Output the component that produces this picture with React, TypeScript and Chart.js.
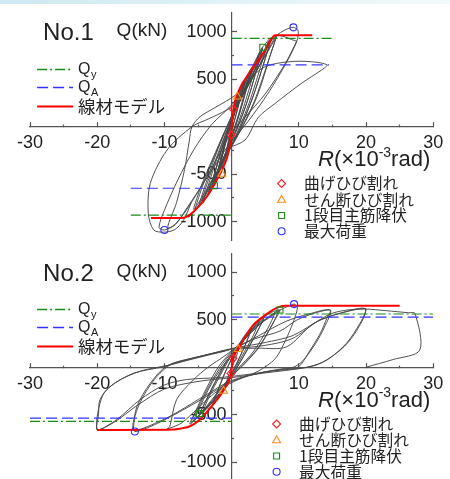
import React, { useEffect, useRef } from "react";
import { Chart, registerables } from "chart.js";

Chart.register(...registerables);

type Pt = [number, number];

// ---------- axes ----------
const xTickLabels = [-30, -20, -10, 10, 20, 30];
const yTickLabels = [-1000, -500, 500, 1000];
const panelTitles = ["No.1", "No.2"];
const yAxisTitle = "Q(kN)";
const lineLegendMain = ["Q", "Q", "線材モデル"];
const lineLegendSub = ["y", "A", ""];
const markerLegendLabels = ["曲げひび割れ", "せん断ひび割れ", "1段目主筋降伏", "最大荷重"];

// ---------- No.1 ----------
const no1Skeleton: Pt[] = [[-12, -962], [-7.6, -962], [-6.7, -950], [-5.4, -877], [-3.7, -737], [-2.2, -560], [-1.2, -420], [-0.5, -280], [-0.07, -88], [0, 0], [0.27, 183], [1.0, 370], [3.0, 600], [5.0, 805], [6.5, 962], [12, 962]];
const no1QyPos: Pt[] = [[0, 930], [15, 930]];
const no1QyNeg: Pt[] = [[-15, -930], [0, -930]];
const no1QaPos: Pt[] = [[0, 650], [14.5, 650]];
const no1QaNeg: Pt[] = [[-15, -648], [0, -648]];
const no1Flexural: Pt[] = [[0.27, 183], [-0.07, -88]];
const no1Shear: Pt[] = [[0.87, 316], [-1.46, -498]];
const no1Yield: Pt[] = [[4.64, 836], [-2.56, -621]];
const no1Max: Pt[] = [[9.2, 1046], [-10.0, -1087]];
const no1Loop1: Pt[] = [[0, 0], [0.27, 183], [0.9, 330], [0.6, 210], [0.05, 20], [-0.07, -88], [-0.5, -280], [-1.2, -420], [-0.9, -300], [-0.3, -80], [0.3, 140], [0.9, 330]];
const no1Loop2: Pt[] = [[0.9, 330], [2.0, 500], [1.5, 360], [0.5, 90], [-0.3, -120], [-1.0, -330], [-2.2, -560], [-1.8, -440], [-1.0, -200], [0, 60], [1.0, 320], [2.0, 500]];
const no1Loop2b: Pt[] = [[2.0, 500], [1.6, 380], [0.7, 130], [-0.2, -100], [-1.1, -340], [-2.2, -540], [-1.7, -400], [-0.8, -150], [0.2, 100], [1.2, 340], [2.0, 500]];
const no1Loop3: Pt[] = [[2.0, 500], [3.0, 620], [2.6, 500], [1.4, 190], [0.3, -60], [-1.0, -300], [-2.6, -620], [-2.1, -480], [-1.2, -230], [0.1, 90], [1.6, 400], [3.0, 620]];
const no1Loop3b: Pt[] = [[3.0, 610], [2.5, 470], [1.2, 150], [0.1, -90], [-1.3, -360], [-2.6, -600], [-2.0, -450], [-1.0, -180], [0.4, 130], [1.8, 420], [3.0, 610]];
const no1Loop3c: Pt[] = [[2.8, 600], [2.2, 430], [1.0, 120], [-0.2, -130], [-1.5, -390], [-2.5, -590], [-1.9, -420], [-0.9, -160], [0.6, 170], [2.0, 450], [2.8, 600]];
const no1Loop4: Pt[] = [[3.0, 620], [4.6, 836], [3.9, 650], [2.4, 280], [0.6, -60], [-1.5, -370], [-3.3, -700], [-2.7, -540], [-1.6, -260], [0.2, 110], [2.5, 500], [4.6, 836]];
const no1Loop4b: Pt[] = [[4.6, 820], [3.8, 620], [2.2, 240], [0.4, -90], [-1.7, -410], [-3.4, -690], [-2.6, -500], [-1.3, -200], [0.5, 160], [2.8, 530], [4.6, 820]];
const no1Loop4c: Pt[] = [[4.2, 790], [3.4, 590], [1.8, 210], [0.2, -110], [-1.9, -440], [-3.2, -680], [-2.4, -470], [-1.1, -170], [0.8, 210], [3.0, 580], [4.2, 790]];
const no1Loop5: Pt[] = [[4.6, 836], [5.8, 930], [5.0, 720], [3.2, 320], [1.2, -30], [-1.8, -430], [-4.2, -800], [-3.4, -600], [-2.0, -300], [0.2, 110], [3.2, 560], [5.8, 930]];
const no1Loop5b: Pt[] = [[5.9, 920], [4.9, 690], [3.0, 280], [0.9, -70], [-2.1, -470], [-4.4, -780], [-3.5, -570], [-1.8, -240], [0.5, 170], [3.4, 580], [5.9, 920]];
const no1Loop5c: Pt[] = [[5.5, 900], [4.4, 650], [2.6, 250], [0.7, -80], [-2.3, -500], [-4.8, -830], [-3.8, -590], [-2.0, -230], [0.7, 220], [3.8, 650], [5.5, 900]];
const no1Loop6: Pt[] = [[5.8, 930], [6.6, 960], [5.7, 740], [3.8, 320], [1.5, -20], [-2.2, -480], [-5.4, -880], [-4.4, -640], [-2.6, -320], [0, 100], [3.5, 560], [6.6, 960]];
const no1Loop6b: Pt[] = [[6.7, 950], [5.5, 700], [3.4, 270], [1.1, -60], [-2.6, -520], [-5.6, -870], [-4.5, -620], [-2.4, -270], [0.4, 170], [3.8, 600], [6.7, 950]];
const no1Loop7: Pt[] = [[6.6, 960], [8.0, 1020], [9.2, 1046], [9.9, 1010], [9.7, 900], [8.2, 680], [5.5, 360], [2.5, 60], [-0.5, -200], [-3.5, -520], [-6.5, -840], [-8.4, -1030], [-10.0, -1087], [-10.8, -1060], [-10.0, -880], [-8.0, -560], [-5.6, -240], [-3.0, 20], [0, 230], [3.5, 560], [6.5, 950], [9.7, 900]];
const no1Loop8: Pt[] = [[9.7, 900], [8.0, 667], [5.0, 345], [2.0, 100], [0, -60], [-3.0, -440], [-6.0, -800], [-8.4, -1030], [-9.5, -1060], [-8.2, -800], [-7.0, -450], [-6.3, -150], [-5.9, 0], [-4.7, 105], [-2.5, 200], [0.5, 330], [2.5, 490], [5.0, 632], [8.5, 684], [11.9, 684], [14.2, 650], [13.4, 597], [10.4, 457], [6.5, 246], [4.0, 100], [2.0, -140], [-0.7, -228]];
const no1Loop9: Pt[] = [[1.5, 280], [-0.7, 176], [-3.5, 80], [-5.9, 0], [-9.6, -245], [-12.1, -596], [-12.4, -912], [-11.6, -1087], [-10.1, -1110], [-8.5, -1085], [-7.2, -990], [-6.0, -800]];

// ---------- No.2 ----------
const no2Skeleton: Pt[] = [[-20, -660], [-9.6, -658], [-7.5, -645], [-6.2, -622], [-5.0, -570], [-3.8, -480], [-2.5, -370], [-1.2, -245], [-0.1, -66], [0.2, 93], [1.0, 190], [3.0, 425], [5.0, 548], [6.7, 625], [8.0, 646], [25, 646]];
const no2QyPos: Pt[] = [[0, 560], [30, 560]];
const no2QyNeg: Pt[] = [[-30, -570], [0, -570]];
const no2QaPos: Pt[] = [[0, 527], [30, 527]];
const no2QaNeg: Pt[] = [[-30, -537], [0, -537]];
const no2Flexural: Pt[] = [[0.2, 93], [-0.1, -66]];
const no2Shear: Pt[] = [[1.0, 190], [-1.2, -250]];
const no2Yield: Pt[] = [[7.2, 601], [-4.8, -488]];
const no2Max: Pt[] = [[9.3, 664], [-14.4, -677]];
const no2Loop1: Pt[] = [[0, 0], [0.2, 93], [1.0, 190], [0.6, 90], [0, -10], [-0.1, -66], [-1.2, -250], [-0.7, -140], [0, 10], [0.5, 120], [1.0, 190]];
const no2Loop2: Pt[] = [[1.0, 190], [2.2, 330], [3.0, 420], [2.2, 260], [0.8, 40], [-0.4, -120], [-1.5, -260], [-2.8, -400], [-2.2, -270], [-1.0, -60], [0.4, 140], [1.8, 320], [3.0, 420]];
const no2Loop2b: Pt[] = [[3.0, 410], [2.0, 230], [0.6, 20], [-0.6, -140], [-2.8, -390], [-2.0, -240], [-0.8, -30], [0.6, 170], [2.0, 330], [3.0, 410]];
const no2Loop3: Pt[] = [[3.0, 420], [4.8, 530], [4.0, 400], [2.2, 170], [0.5, -40], [-1.2, -220], [-3.0, -380], [-4.7, -492], [-4.0, -380], [-2.5, -160], [-0.8, 60], [1.5, 260], [3.5, 440], [4.8, 530]];
const no2Loop3b: Pt[] = [[4.8, 520], [3.8, 370], [2.0, 140], [0.3, -60], [-1.5, -250], [-4.6, -480], [-3.8, -350], [-2.2, -130], [-0.5, 80], [1.8, 290], [4.8, 520]];
const no2Loop3c: Pt[] = [[4.2, 500], [3.2, 330], [1.5, 110], [0, -80], [-1.8, -280], [-4.2, -470], [-3.4, -320], [-1.8, -100], [-0.2, 100], [2.2, 320], [4.2, 500]];
const no2Loop4: Pt[] = [[4.8, 530], [6.0, 580], [7.2, 601], [6.2, 470], [4.2, 220], [2.0, 40], [0, -100], [-2.0, -300], [-4.0, -450], [-6.2, -600], [-5.4, -470], [-3.8, -230], [-1.8, 20], [0.5, 200], [3.5, 420], [6.5, 580], [7.2, 601]];
const no2Loop4b: Pt[] = [[7.0, 590], [6.0, 440], [3.8, 190], [1.6, 20], [-0.5, -130], [-3.0, -360], [-6.0, -580], [-5.0, -430], [-3.3, -190], [-1.3, 40], [1.0, 230], [4.0, 440], [7.0, 590]];
const no2Loop4c: Pt[] = [[6.5, 575], [5.4, 410], [3.2, 160], [1.0, -10], [-1.0, -170], [-3.6, -400], [-5.6, -560], [-4.6, -400], [-2.8, -150], [-0.8, 60], [1.5, 260], [4.5, 470], [6.5, 575]];
const no2Loop5: Pt[] = [[7.2, 601], [8.5, 645], [9.3, 664], [9.8, 630], [9.2, 480], [8.0, 280], [6.5, 90], [4.0, -40], [1.0, -130], [-1.0, -200], [-3.0, -300], [-5.0, -430], [-7.5, -590], [-9.6, -650], [-9.2, -624], [-8.2, -344], [-5.7, -134], [-3.5, 0], [-1.0, 120], [0.5, 200]];
const no2Loop6: Pt[] = [[0.5, 200], [3.5, 300], [7.2, 380], [9.7, 496], [12.2, 566], [14.7, 601], [14.2, 520], [13.2, 356], [11.7, 181], [9.9, 0], [8.0, -12], [4.0, -64], [0, -150], [-2.0, -230], [-5.0, -360], [-8.0, -480], [-11.0, -590], [-13.0, -650], [-14.4, -677], [-14.6, -641], [-14.1, -414], [-12.1, -169], [-9.6, 15], [-6.0, 90], [-2.0, 160], [0.5, 200]];
const no2Loop6b: Pt[] = [[0.5, 200], [4.0, 330], [8.0, 480], [11.5, 560], [14.7, 600], [13.8, 420], [12.5, 250], [10.5, 60], [9.0, -5], [5.0, -50], [0, -140], [-4.0, -300], [-8.0, -470], [-11.0, -580], [-14.6, -658], [-13.8, -400], [-11.5, -130], [-9.0, 30], [-5.0, 110], [-1.0, 170], [0.5, 200]];
const no2Loop7: Pt[] = [[0.5, 200], [4.0, 200], [8.2, 215], [12.2, 461], [16.1, 566], [19.9, 618], [19.8, 560], [19.1, 461], [17.1, 252], [14.2, 76], [11.2, 0], [6.0, -40], [2.0, -80], [-2.0, -110], [-6.7, -130], [-10.1, -190], [-13.6, -341], [-17.1, -551], [-20.0, -660], [-19.8, -500], [-19.6, -344], [-18.1, -204], [-14.6, -64], [-10.1, 5], [-6.7, 75], [-1.0, 180], [1.0, 210]];
const no2Loop7b: Pt[] = [[1.0, 200], [5.0, 230], [9.0, 300], [13.0, 490], [16.5, 575], [19.9, 615], [19.0, 430], [16.8, 220], [13.5, 50], [11.0, -5], [5.0, -60], [0, -110], [-5.0, -150], [-10.0, -230], [-14.0, -400], [-17.5, -580], [-20.0, -650], [-19.2, -300], [-17.0, -150], [-13.5, -40], [-9.5, 20], [-5.0, 100], [-1.0, 170]];
const no2Loop8: Pt[] = [[1.0, 210], [5.0, 260], [9.0, 330], [12.0, 450], [14.7, 560], [17.0, 600], [19.9, 612], [23.0, 595], [26.3, 573], [27.3, 565], [28.0, 180], [24.0, 80], [20.0, 0]];

// ---------- styles ----------
const FONT = '"Liberation Sans", Arial, "Noto Sans CJK JP", sans-serif';
const CJK = '"Noto Sans CJK JP", "Liberation Sans", sans-serif';
const TEXT = "#222";
const AXIS = "#555";
const LOOP = "#484848";
const RED = "#ff0000";
const GREEN = "#1a8a1a";
const BLUE = "#3333ff";
const MARKER_COLORS = ["#ff2020", "#ff8c1a", "#1a8c1a", "#3030ff"];
const MARKER_STYLES = ["rectRot", "triangle", "rect", "circle"];
const MARKER_RADII = [4, 4.6, 4.2, 3.5];
const QY_DASH = [10, 3, 2, 3];
const QA_DASH = [11, 5];

type Panel = {
  title: string;
  skeleton: Pt[];
  qyPos: Pt[];
  qyNeg: Pt[];
  qaPos: Pt[];
  qaNeg: Pt[];
  loops: Pt[][];
  markers: Pt[][];
  markerDx: number;
};

const panels: Panel[] = [
  {
    title: panelTitles[0],
    skeleton: no1Skeleton,
    qyPos: no1QyPos,
    qyNeg: no1QyNeg,
    qaPos: no1QaPos,
    qaNeg: no1QaNeg,
    loops: [no1Loop1, no1Loop2, no1Loop2b, no1Loop3, no1Loop3b, no1Loop3c, no1Loop4, no1Loop4b, no1Loop4c, no1Loop5, no1Loop5b, no1Loop5c, no1Loop6, no1Loop6b, no1Loop7, no1Loop8, no1Loop9],
    markers: [no1Flexural, no1Shear, no1Yield, no1Max],
    markerDx: 50,
  },
  {
    title: panelTitles[1],
    skeleton: no2Skeleton,
    qyPos: no2QyPos,
    qyNeg: no2QyNeg,
    qaPos: no2QaPos,
    qaNeg: no2QaNeg,
    loops: [no2Loop1, no2Loop2, no2Loop2b, no2Loop3, no2Loop3b, no2Loop3c, no2Loop4, no2Loop4b, no2Loop4c, no2Loop5, no2Loop6, no2Loop6b, no2Loop7, no2Loop7b, no2Loop8],
    markers: [no2Flexural, no2Shear, no2Yield, no2Max],
    markerDx: 45,
  },
];

const toXY = (pts: Pt[]) => pts.map(([x, y]) => ({ x, y }));

function drawSymbol(ctx: CanvasRenderingContext2D, style: string, x: number, y: number, r: number) {
  ctx.beginPath();
  if (style === "rectRot") {
    ctx.moveTo(x - r, y);
    ctx.lineTo(x, y - r);
    ctx.lineTo(x + r, y);
    ctx.lineTo(x, y + r);
    ctx.closePath();
  } else if (style === "triangle") {
    for (let i = 0; i < 3; i++) {
      const a = (i * 2 * Math.PI) / 3;
      const px = x + Math.sin(a) * r;
      const py = y - Math.cos(a) * r;
      if (i === 0) ctx.moveTo(px, py);
      else ctx.lineTo(px, py);
    }
    ctx.closePath();
  } else if (style === "rect") {
    const s = r * Math.SQRT1_2;
    ctx.rect(x - s, y - s, 2 * s, 2 * s);
  } else {
    ctx.arc(x, y, r, 0, Math.PI * 2);
  }
  ctx.stroke();
}

function makeTextPlugin(panel: Panel) {
  return {
    id: "panelText",
    afterDatasetsDraw(chart: any) {
      const ctx: CanvasRenderingContext2D = chart.ctx;
      const ox = chart.scales.x.getPixelForValue(0);
      const oy = chart.scales.y.getPixelForValue(0);
      ctx.save();
      ctx.globalAlpha = 1;
      ctx.fillStyle = TEXT;
      ctx.textBaseline = "middle";
      ctx.textAlign = "left";
      ctx.font = `24px ${FONT}`;
      ctx.fillText(panel.title, ox - 188.5, oy - 93.2);
      ctx.font = `19px ${FONT}`;
      ctx.fillText(yAxisTitle, ox - 115, oy - 95.5);

      // line legend
      const legendColors = [GREEN, BLUE, RED];
      const legendDash = [QY_DASH, QA_DASH, []];
      const legendWidth = [1.3, 1.3, 2];
      const legendDy = [-57.7, -39.7, -21.2];
      for (let i = 0; i < 3; i++) {
        const y = Math.round(oy + legendDy[i]) + 0.5;
        ctx.save();
        ctx.strokeStyle = legendColors[i];
        ctx.lineWidth = legendWidth[i];
        ctx.setLineDash(legendDash[i]);
        ctx.beginPath();
        ctx.moveTo(ox - 194.5, y);
        ctx.lineTo(ox - 158.5, y);
        ctx.stroke();
        ctx.restore();
        ctx.fillStyle = TEXT;
        const tx = ox - 153.5;
        if (lineLegendSub[i]) {
          ctx.font = `16px ${FONT}`;
          ctx.fillText(lineLegendMain[i], tx, y);
          const w = ctx.measureText(lineLegendMain[i]).width;
          ctx.font = `11px ${FONT}`;
          ctx.fillText(lineLegendSub[i], tx + w + 0.5, y + 5);
        } else {
          ctx.font = `17.4px ${CJK}`;
          ctx.fillText(lineLegendMain[i], tx, y);
        }
      }

      // x-axis title R(×10^-3 rad)
      let x = ox + 86.5;
      const ty = oy + 33.3;
      ctx.fillStyle = TEXT;
      ctx.font = `italic 22px ${FONT}`;
      ctx.fillText("R", x, ty);
      x += ctx.measureText("R").width;
      ctx.font = `22px ${FONT}`;
      ctx.fillText("(×10", x, ty);
      x += ctx.measureText("(×10").width;
      ctx.font = `14px ${FONT}`;
      ctx.fillText("-3", x, ty - 7);
      x += ctx.measureText("-3").width;
      ctx.font = `22px ${FONT}`;
      ctx.fillText("rad)", x, ty);

      // marker legend
      const mDy = [56.8, 73.3, 88.8, 104.5];
      for (let i = 0; i < 4; i++) {
        const y = oy + mDy[i];
        ctx.save();
        ctx.strokeStyle = MARKER_COLORS[i];
        ctx.lineWidth = 1.1;
        drawSymbol(ctx, MARKER_STYLES[i], ox + panel.markerDx, y, MARKER_RADII[i]);
        ctx.restore();
        ctx.font = `15.7px ${CJK}`;
        ctx.fillStyle = TEXT;
        ctx.fillText(markerLegendLabels[i], ox + panel.markerDx + 22.5, y);
      }
      ctx.restore();
    },
  };
}

function buildConfig(panel: Panel, padding: { left: number; right: number; top: number; bottom: number }) {
  const markerSets = panel.markers.map((pts, i) => ({
    data: toXY(pts),
    showLine: false,
    pointStyle: MARKER_STYLES[i],
    pointRadius: MARKER_RADII[i],
    pointBorderColor: MARKER_COLORS[i],
    pointBackgroundColor: "rgba(0,0,0,0)",
    pointBorderWidth: 1.1,
    borderColor: MARKER_COLORS[i],
    backgroundColor: "rgba(0,0,0,0)",
  }));
  const refLine = (pts: Pt[], color: string, dash: number[]) => ({
    data: toXY(pts),
    showLine: true,
    borderColor: color,
    borderWidth: 1.2,
    borderDash: dash,
    pointRadius: 0,
    tension: 0,
  });
  const datasets: any[] = [
    ...markerSets,
    {
      data: toXY(panel.skeleton),
      showLine: true,
      borderColor: RED,
      borderWidth: 2,
      pointRadius: 0,
      cubicInterpolationMode: "monotone",
    },
    refLine(panel.qyPos, GREEN, QY_DASH),
    refLine(panel.qyNeg, GREEN, QY_DASH),
    refLine(panel.qaPos, BLUE, QA_DASH),
    refLine(panel.qaNeg, BLUE, QA_DASH),
    ...panel.loops.map((lp) => ({
      data: toXY(lp),
      showLine: true,
      borderColor: LOOP,
      borderWidth: 0.95,
      pointRadius: 0,
      tension: 0.3,
    })),
  ];
  const tickFont = { family: FONT, size: 18 };
  return {
    type: "scatter" as const,
    data: { datasets },
    plugins: [makeTextPlugin(panel)],
    options: {
      animation: false as const,
      responsive: false,
      maintainAspectRatio: false,
      events: [],
      layout: { padding },
      plugins: { legend: { display: false }, tooltip: { enabled: false }, title: { display: false } },
      scales: {
        x: {
          type: "linear" as const,
          min: -30,
          max: 30,
          position: { y: 0 },
          ticks: {
            stepSize: 5,
            maxTicksLimit: 1000,
            autoSkip: false,
            maxRotation: 0,
            padding: 11,
            color: TEXT,
            font: tickFont,
            callback: (v: number) => (xTickLabels.includes(v) ? String(v) : ""),
          },
          grid: {
            display: true,
            drawOnChartArea: false,
            drawTicks: true,
            tickLength: -5,
            lineWidth: 1,
            tickWidth: 1.2,
            tickColor: AXIS,
            tickBorderDash: (c: any) => (c.tick && c.tick.value % 10 === 0 ? [] : [2.6, 40]),
          },
          border: { display: true, color: AXIS, width: 1.2 },
        },
        y: {
          type: "linear" as const,
          min: -1200,
          max: 1200,
          position: { x: 0 },
          ticks: {
            stepSize: 250,
            maxTicksLimit: 1000,
            includeBounds: false,
            autoSkip: false,
            padding: 0,
            color: TEXT,
            font: tickFont,
            callback: (v: number) => (yTickLabels.includes(v) ? `${v} ` : ""),
          },
          grid: {
            display: true,
            drawOnChartArea: false,
            drawTicks: true,
            tickLength: -6,
            lineWidth: 1,
            tickWidth: 1.2,
            tickColor: AXIS,
            tickBorderDash: (c: any) => (c.tick && c.tick.value % 500 === 0 ? [] : [3, 40]),
          },
          border: { display: true, color: AXIS, width: 1.2 },
        },
      },
    },
  };
}

export default function App() {
  const ref1 = useRef<HTMLCanvasElement | null>(null);
  const ref2 = useRef<HTMLCanvasElement | null>(null);

  useEffect(() => {
    const c1 = new Chart(ref1.current as HTMLCanvasElement, buildConfig(panels[0], { left: 30, right: 26.8, top: 12.7, bottom: 14.3 }) as any);
    const c2 = new Chart(ref2.current as HTMLCanvasElement, buildConfig(panels[1], { left: 30, right: 26.8, top: 18.2, bottom: 13.8 }) as any);
    return () => {
      c1.destroy();
      c2.destroy();
    };
  }, []);

  return (
    <div style={{ position: "absolute", left: 0, top: 0, width: 450, height: 479, overflow: "hidden", background: "#fff" }}>
      <div style={{ position: "absolute", left: 0, top: 0, width: 450, height: 4, background: "linear-gradient(90deg, #cfe8f2, #e4f3f8 60%, #f3fafc)" }} />
      <canvas ref={ref1} width={460} height={255} style={{ position: "absolute", left: 0, top: 0, width: 460, height: 255 }} />
      <canvas ref={ref2} width={460} height={260} style={{ position: "absolute", left: 0, top: 235, width: 460, height: 260 }} />
    </div>
  );
}
